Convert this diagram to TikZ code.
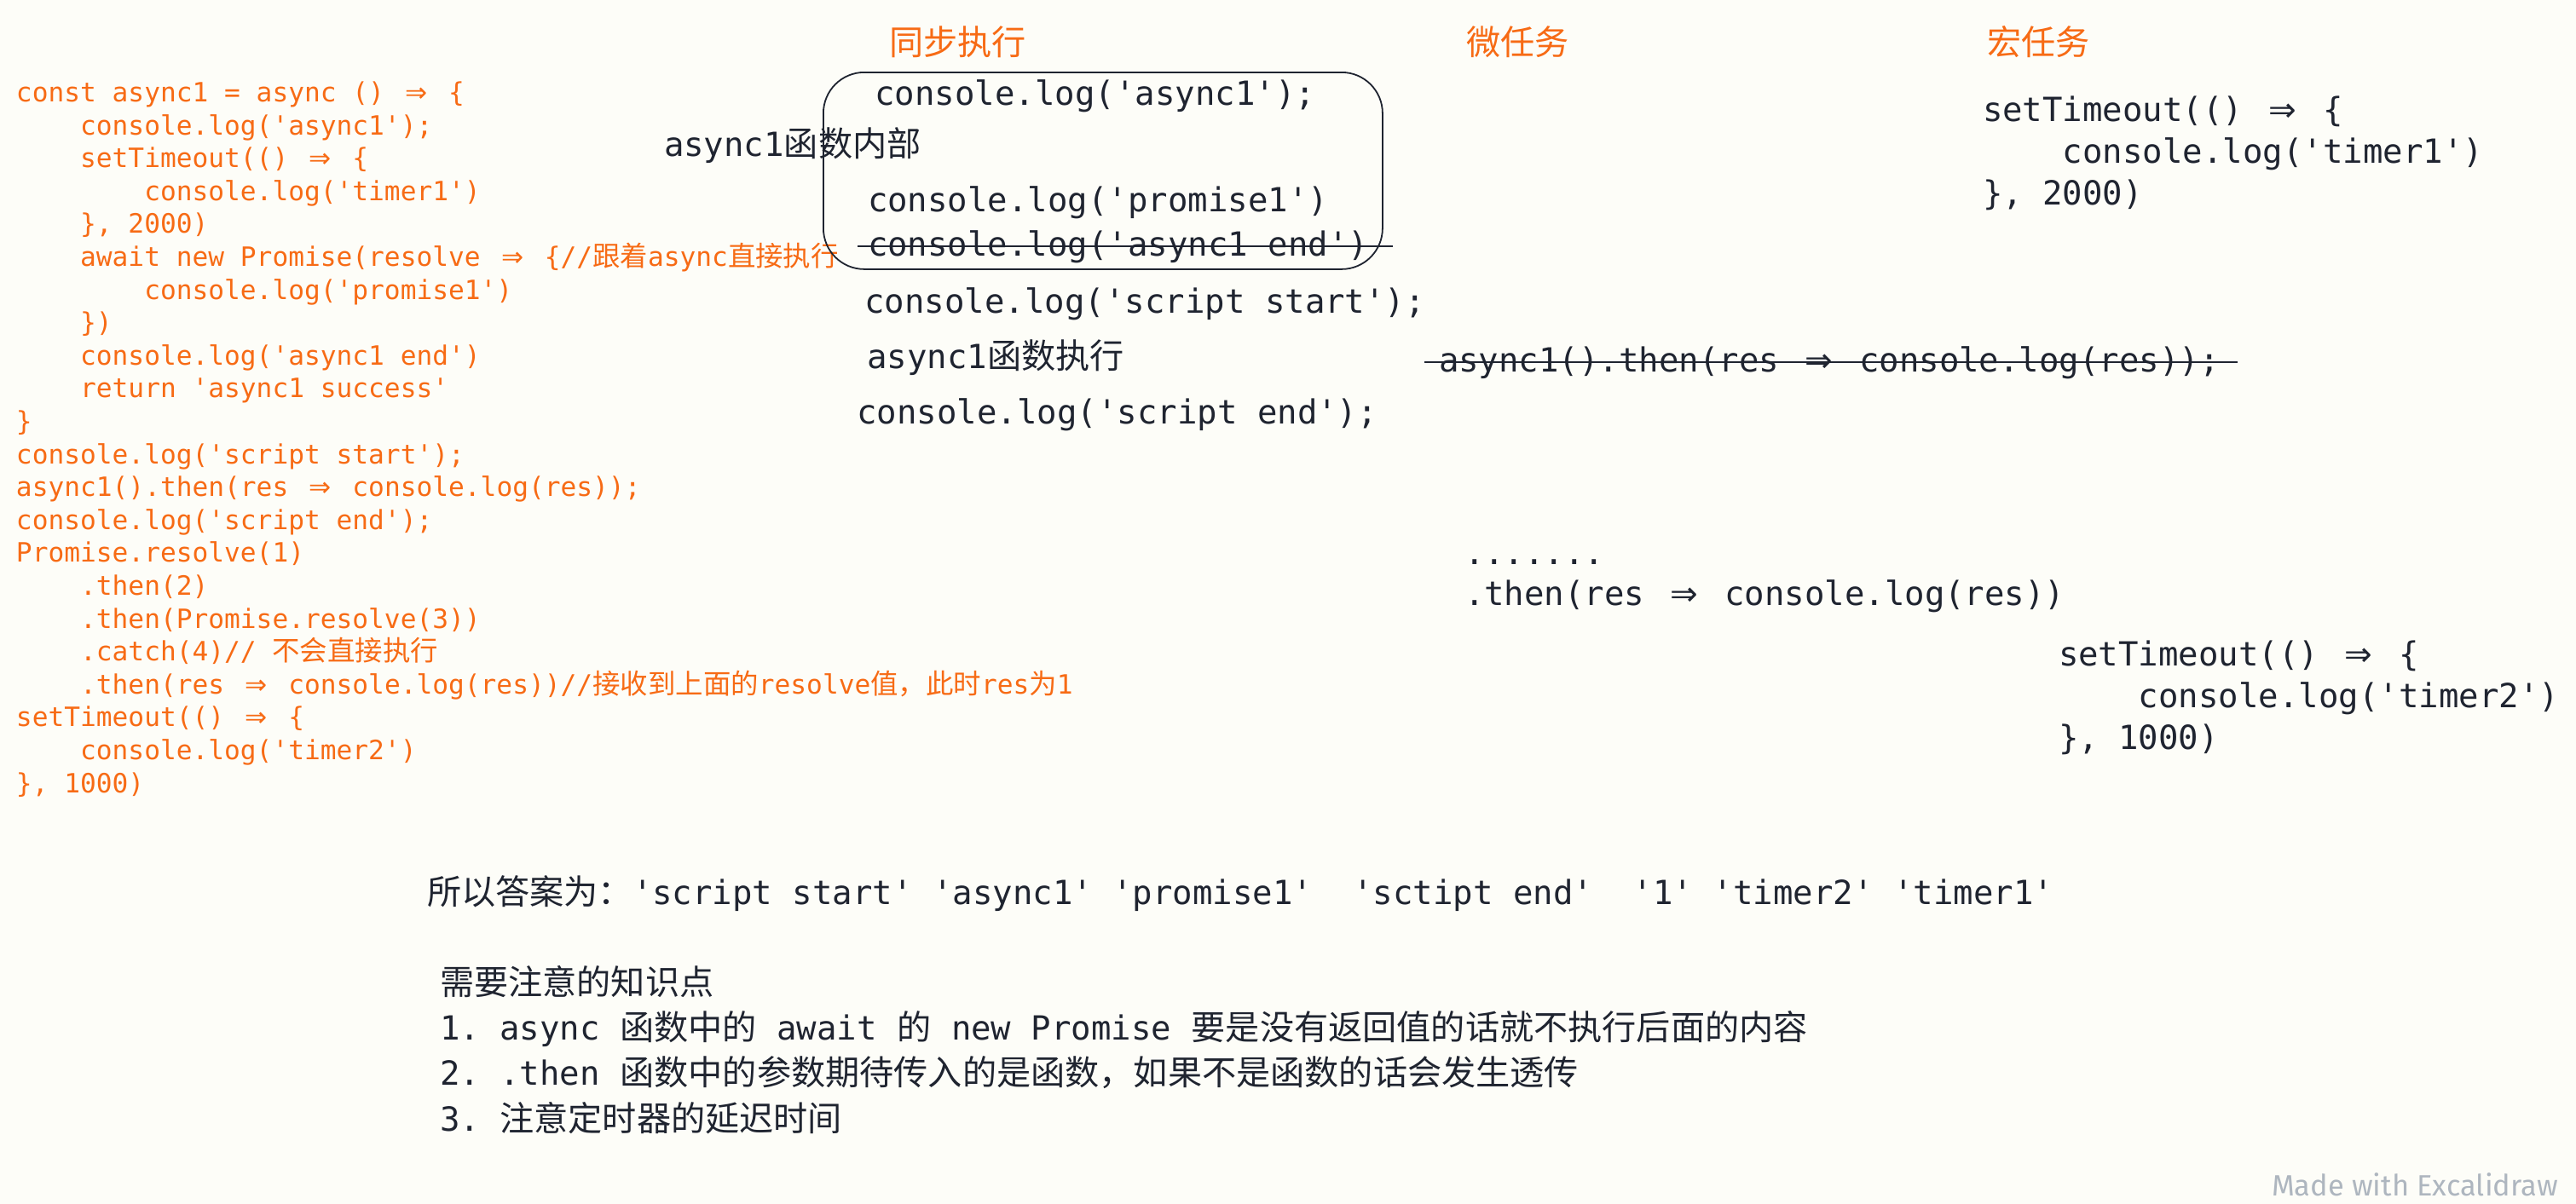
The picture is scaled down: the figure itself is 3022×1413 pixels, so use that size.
\documentclass[tikz,border=0pt]{standalone}
\usepackage{fontspec}
\setmainfont{DejaVu Sans}
\setmonofont{DejaVu Sans Mono}
\newfontfamily\zhA[Scale=1.03]{Noto Sans CJK SC}
\newfontfamily\zhB[Scale=1.04]{Noto Sans CJK SC}
\newfontfamily\arrowfont{DejaVu Sans}
\newfontfamily\markfont{Fira Sans}
\usetikzlibrary{calc}
\definecolor{bgc}{HTML}{FDFDF8}
\definecolor{orc}{HTML}{F76B15}
\definecolor{dkc}{HTML}{1F2430}
\definecolor{wmc}{HTML}{AEB6BF}
\newcommand\ar{\makebox[1.204em]{\arrowfont ⇒}}
\newcommand\indA{\hspace*{2.408em}}
\newcommand\indB{\hspace*{4.816em}}
\tikzset{
  txt/.style={anchor=base west, inner sep=0pt, outer sep=0pt},
  orcode/.style={txt, text=orc, font=\ttfamily\fontsize{31.2}{39}\selectfont},
  dkcode/.style={txt, text=dkc, font=\ttfamily\fontsize{39}{48.75}\selectfont},
  header/.style={txt, text=orc, font=\fontsize{39}{48.75}\selectfont\zhA},
  strike/.style={draw=dkc, line width=1.6pt},
  syncframe/.style={draw=dkc, line width=1.8pt, rounded corners=48pt, inner sep=0pt, anchor=north west},
  watermark/.style={txt, text=wmc, font=\markfont\fontsize{34.5}{40}\selectfont},
}
\begin{document}
\begin{tikzpicture}[x=1pt,y=-1pt]
\fill[bgc] (0,0) rectangle (3022,1413);
\useasboundingbox (0,0) rectangle (3022,1413);

% left code
\node[orcode] (o0)  at (19,119.5) {const async1 = async () \ar{} \{};
\node[orcode] (o1)  at (19,158.1) {\indA console.log('async1');};
\node[orcode] (o2)  at (19,196.7) {\indA setTimeout(() \ar{} \{};
\node[orcode] (o3)  at (19,235.3) {\indB console.log('timer1')};
\node[orcode] (o4)  at (19,273.9) {\indA \}, 2000)};
\node[orcode] (o5)  at (19,312.5) {\indA await new Promise(resolve \ar{} \{//{\zhB 跟着}async{\zhB 直接执行}};
\node[orcode] (o6)  at (19,351.1) {\indB console.log('promise1')};
\node[orcode] (o7)  at (19,389.7) {\indA \})};
\node[orcode] (o8)  at (19,428.3) {\indA console.log('async1 end')};
\node[orcode] (o9)  at (19,466.9) {\indA return 'async1 success'};
\node[orcode] (o10) at (19,505.5) {\}};
\node[orcode] (o11) at (19,544.1) {console.log('script start');};
\node[orcode] (o12) at (19,582.7) {async1().then(res \ar{} console.log(res));};
\node[orcode] (o13) at (19,621.3) {console.log('script end');};
\node[orcode] (o14) at (19,659.9) {Promise.resolve(1)};
\node[orcode] (o15) at (19,698.5) {\indA .then(2)};
\node[orcode] (o16) at (19,737.1) {\indA .then(Promise.resolve(3))};
\node[orcode] (o17) at (19,775.7) {\indA .catch(4)// {\zhB 不会直接执行}};
\node[orcode] (o18) at (19,814.3) {\indA .then(res \ar{} console.log(res))//{\zhB 接收到上面的}resolve{\zhB 值，此时}res{\zhB 为}1};
\node[orcode] (o19) at (19,852.9) {setTimeout(() \ar{} \{};
\node[orcode] (o20) at (19,891.5) {\indA console.log('timer2')};
\node[orcode] (o21) at (19,930.1) {\}, 1000)};

% headers
\node[header] (h1) at (1043,64) {同步执行};
\node[header] (h2) at (1720,64) {微任务};
\node[header] (h3) at (2331,64) {宏任务};

% synchronous column
\node[syncframe, minimum width=656pt, minimum height=231pt] (syncbox) at (965,84) {};
\node[dkcode] (inner) at (779,183) {async1{\zhA 函数内部}};
\node[dkcode] (sa1) at (1026.5,123) {console.log('async1');};
\node[dkcode] (sp1) at (1018,248) {console.log('promise1')};
\node[dkcode] (sae) at (1018,300) {console.log('async1 end')};
\draw[strike] ($(sae.base west)+(-12,-11)$) -- ($(sae.base east)+(29,-11)$);
\node[dkcode] (ss) at (1014.5,367) {console.log('script start');};
\node[dkcode] (sx) at (1017.5,432) {async1{\zhA 函数执行}};
\node[dkcode] (se) at (1005.5,497) {console.log('script end');};

% micro tasks
\node[dkcode] (m1) at (1688,436) {async1().then(res \ar{} console.log(res));};
\draw[strike] ($(m1.base west)+(-17,-11)$) -- ($(m1.base east)+(21,-11)$);
\node[dkcode] (m2) at (1718,662) {.......};
\node[dkcode] (m3) at (1718,710.5) {.then(res \ar{} console.log(res))};

% macro tasks
\node[dkcode] (t1a) at (2326,142.7) {setTimeout(() \ar{} \{};
\node[dkcode] (t1b) at (2326,191.5) {\indA console.log('timer1')};
\node[dkcode] (t1c) at (2326,240.2) {\}, 2000)};
\node[dkcode] (t2a) at (2415,781.7) {setTimeout(() \ar{} \{};
\node[dkcode] (t2b) at (2415,830.4) {\indA console.log('timer2')};
\node[dkcode] (t2c) at (2415,879) {\}, 1000)};

% answer
\node[dkcode] (ans) at (501,1061) {{\zhA 所以答案为：}'script start' 'async1' 'promise1'\ \ 'sctipt end'\ \ '1' 'timer2' 'timer1'};

% notes
\node[dkcode] (n0) at (516,1167) {{\zhA 需要注意的知识点}};
\node[dkcode] (n1) at (516,1220) {1. async {\zhA 函数中的} await {\zhA 的} new Promise {\zhA 要是没有返回值的话就不执行后面的内容}};
\node[dkcode] (n2) at (516,1273) {2. .then {\zhA 函数中的参数期待传入的是函数，如果不是函数的话会发生透传}};
\node[dkcode] (n3) at (516,1327) {3. {\zhA 注意定时器的延迟时间}};

% watermark
\node[watermark] (wm) at (2665,1403) {Made with Excalidraw};
\end{tikzpicture}
\end{document}
